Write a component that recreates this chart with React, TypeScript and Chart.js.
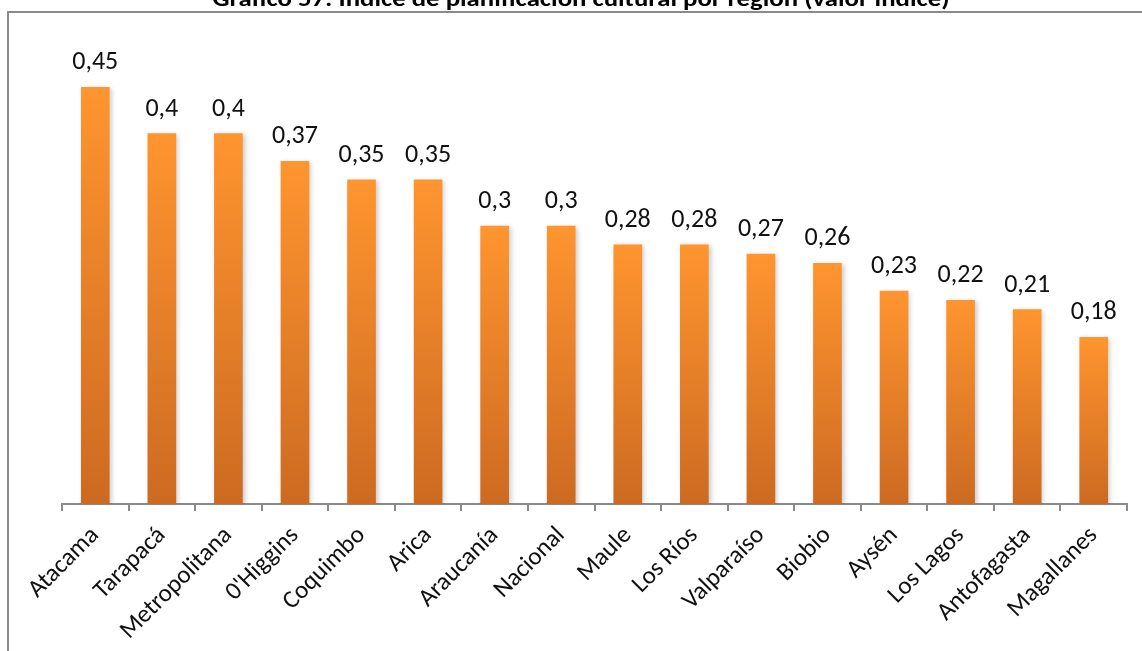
import React, { useEffect, useRef } from "react";
import { Chart, registerables } from "chart.js";

Chart.register(...registerables);

const TITLE = "Gráfico 57: Índice de planificación cultural por región (valor índice)";
const regions = [
  "Atacama", "Tarapacá", "Metropolitana", "0'Higgins", "Coquimbo", "Arica",
  "Araucanía", "Nacional", "Maule", "Los Ríos", "Valparaíso", "Biobio",
  "Aysén", "Los Lagos", "Antofagasta", "Magallanes",
];
const values = [0.45, 0.4, 0.4, 0.37, 0.35, 0.35, 0.3, 0.3, 0.28, 0.28, 0.27, 0.26, 0.23, 0.22, 0.21, 0.18];

const FONT = "Carlito, Calibri, 'Open Sans', sans-serif";

const framePlugin = {
  id: "frame",
  beforeDraw(chart: any) {
    const ctx = chart.ctx;
    ctx.save();
    ctx.fillStyle = "#ffffff";
    ctx.fillRect(0, 0, chart.width, chart.height);
    ctx.strokeStyle = "#8a8a8a";
    ctx.lineWidth = 2;
    ctx.beginPath();
    ctx.moveTo(8, chart.height + 5);
    ctx.lineTo(8, 12);
    ctx.lineTo(chart.width + 5, 12);
    ctx.stroke();
    // title (partly cut off at top)
    ctx.fillStyle = "#000000";
    ctx.font = `bold 23px ${FONT}`;
    ctx.textAlign = "center";
    ctx.textBaseline = "alphabetic";
    const w = ctx.measureText(TITLE).width;
    const target = 737;
    ctx.translate(581, 6);
    ctx.scale(target / w, 1);
    ctx.fillText(TITLE, 0, 0);
    ctx.restore();
  },
};

const shadowPlugin = {
  id: "barShadow",
  beforeDatasetsDraw(chart: any) {
    const ctx = chart.ctx;
    ctx.save();
    ctx.shadowColor = "rgba(0,0,0,0.22)";
    ctx.shadowBlur = 5;
    ctx.shadowOffsetX = 2;
    ctx.shadowOffsetY = 1;
  },
  afterDatasetsDraw(chart: any) {
    chart.ctx.restore();
    const ctx = chart.ctx;
    ctx.save();
    ctx.fillStyle = "#111111";
    ctx.font = `26px ${FONT}`;
    ctx.textAlign = "center";
    ctx.textBaseline = "alphabetic";
    const meta = chart.getDatasetMeta(0);
    meta.data.forEach((bar: any, i: number) => {
      const label = String(values[i]).replace(".", ",");
      ctx.fillText(label, bar.x, bar.y - 18);
    });
    ctx.restore();
  },
};

export default function App() {
  const ref = useRef<HTMLCanvasElement | null>(null);
  useEffect(() => {
    if (!ref.current) return;
    const chart = new Chart(ref.current, {
      type: "bar",
      data: {
        labels: regions,
        datasets: [
          {
            data: values,
            barThickness: 28,
            backgroundColor: (c: any) => {
              const ch = c.chart;
              const ys = ch.scales && ch.scales.y;
              if (!ch.chartArea || !ys || c.parsed == null) return "#f38a2b";
              const top = ys.getPixelForValue(c.parsed.y);
              const bottom = ys.getPixelForValue(0);
              const g = ch.ctx.createLinearGradient(0, top, 0, bottom);
              g.addColorStop(0, "#ff952f");
              g.addColorStop(1, "#cc6a21");
              return g;
            },
            borderWidth: 0,
          },
        ],
      },
      options: {
        responsive: true,
        maintainAspectRatio: false,
        animation: false,
        layout: { padding: { left: 62, right: 15, top: 41, bottom: 0 } },
        plugins: {
          legend: { display: false },
          title: { display: false },
          tooltip: { enabled: false },
        },
        scales: {
          y: { display: false, min: 0, max: 0.5 },
          x: {
            afterFit: (s: any) => {
              s.height = 147;
            },
            border: { display: true, color: "#8a8a8a", width: 2 },
            grid: {
              display: true,
              drawOnChartArea: false,
              drawTicks: true,
              tickLength: 7,
              color: "#8a8a8a",
              lineWidth: 2,
              offset: true,
            },
            ticks: {
              minRotation: 45,
              maxRotation: 45,
              autoSkip: false,
              padding: 10,
              color: "#111111",
              font: { size: 25, family: FONT },
            },
          },
        },
      },
      plugins: [framePlugin, shadowPlugin],
    });
    return () => chart.destroy();
  }, []);
  return (
    <div style={{ position: "absolute", left: 0, top: 0, width: 1142, height: 651 }}>
      <canvas ref={ref} />
    </div>
  );
}
